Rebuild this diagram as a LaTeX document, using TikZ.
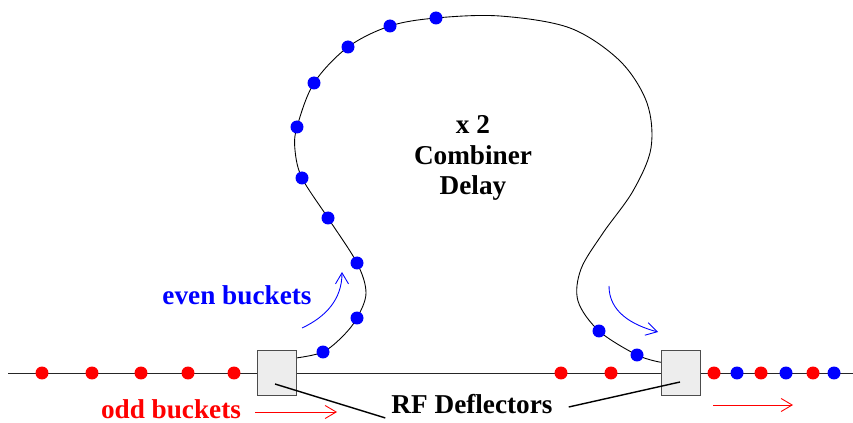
\documentclass[tikz,border=0pt]{standalone}
\usepackage{fontspec}
\setmainfont{Liberation Serif}
\usetikzlibrary{arrows.meta,positioning}

\begin{document}
\begin{tikzpicture}[
  x=0.02cm, y=0.02cm,
  font=\fontsize{15.5}{17.5}\selectfont\bfseries,
  deflector/.style={draw=black!70, fill=black!7, line width=0.7pt,
                    minimum width=0.78cm, minimum height=0.9cm, inner sep=0pt},
  oddbunch/.style={circle, fill=red, inner sep=0pt, minimum size=0.26cm},
  evenbunch/.style={circle, fill=blue, inner sep=0pt, minimum size=0.26cm},
  beam/.style={draw=black!85, line width=0.5pt},
  pointer/.style={draw=black, line width=0.8pt},
  flow/.style={-{Straight Barb[length=2.2mm,width=2.6mm]}, line width=0.5pt}
]
\useasboundingbox (0,0) rectangle (853,423);
\node[deflector] (defl1) at (277,50) {};
\node[deflector] (defl2) at (681,50) {};
\coordinate (beamin) at (8,50);
\coordinate (beamout) at (853,50);
\draw[beam] (beamin) -- (defl1.west);
\draw[beam] (defl1) -- (defl2);
\draw[beam] (defl2) -- (beamout);
\draw[line width=0.5pt] plot[smooth, tension=0.55] coordinates {
  (defl1.37) (323,71) (343,87) (357,105) (366,130) (357,160) (328,205)
  (302,245) (295,273) (297,296) (314,340) (348,376) (390,397) (436,405)
  (500,407) (570,395) (620,362) (647,320) (651,275) (633,232) (603,190)
  (581,154) (578,122) (599,92) (637,68) (defl2.152)};
\foreach \x [count=\i] in {42,92,141,188,234}
  \node[oddbunch] (oddin\i) at (\x,50) {};
\foreach \x [count=\i] in {561,611}
  \node[oddbunch] (oddmid\i) at (\x,50) {};
\foreach \x [count=\i] in {714,761,813}
  \node[oddbunch] (oddout\i) at (\x,50) {};
\foreach \x [count=\i] in {737,786,834}
  \node[evenbunch] (evenout\i) at (\x,50) {};
\foreach \p [count=\i] in {(323,71),(357,105),(357,160),(328,205),(302,245),
    (297,296),(314,340),(348,376),(390,397),(436,405),(599,92),(637,68)}
  \node[evenbunch] (loop\i) at \p {};
\node[align=center] (delay) at (473,265) {x 2\\Combiner\\Delay};
\node[text=blue] (even) at (237,128) {even buckets};
\node[text=red] (odd) at (171,14) {odd buckets};
\node (rf) at (472,19) {RF Deflectors};
\draw[pointer] ([shift={(-2,-11)}]defl1.center) -- ([shift={(0,2)}]rf.south west);
\draw[pointer] ([shift={(-1,-9)}]defl2.center) -- ([shift={(10,-3)}]rf.east);
\coordinate (evenfrom) at (302,95);
\coordinate (evento) at (342,151);
\coordinate (evenfrom2) at (609,137);
\coordinate (evento2) at (658,91);
\coordinate (oddfrom) at (255,11);
\coordinate (oddto) at (337,11);
\coordinate (oddfrom2) at (713,18);
\coordinate (oddto2) at (793,18);
\draw[flow, blue] (evenfrom) to[out=25, in=-90] (evento);
\draw[flow, blue] (evenfrom2) to[out=-90, in=165] (evento2);
\draw[flow, red] (oddfrom) -- (oddto);
\draw[flow, red] (oddfrom2) -- (oddto2);
\end{tikzpicture}
\end{document}
